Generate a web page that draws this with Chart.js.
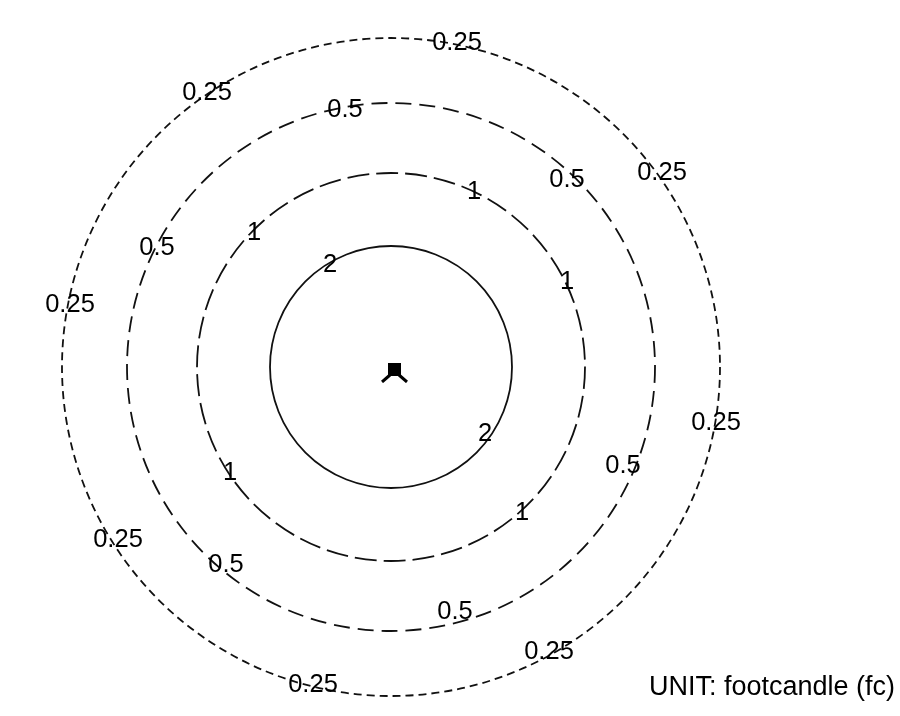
<!DOCTYPE html>
<html>
<script src="https://cdn.jsdelivr.net/npm/chart.js@4.4.1/dist/chart.umd.min.js"></script>
<style>
  body { margin: 0; background: #fff; }
</style>
<body>
  <canvas id="isoChart" width="900" height="716"></canvas>
  <script>
    // illuminance levels (fc) and the radius of each iso line
    const levels = [2, 1, 0.5, 0.25];
    const radii = [121, 194, 264, 329];
    const dashes = [[], [22, 7], [16, 8], [8, 5]];

    // where the level labels sit, relative to the circle centre
    const labels2 = [[-61, 102], [94, -67]];
    const labels1 = [[83, 175], [-137, 134], [176, 85], [-161, -106], [131, -146]];
    const labels05 = [[-46, 257], [176, 187], [-234, 119], [232, -99], [-165, -198], [64, -245]];
    const labels025 = [[66, 324], [-184, 274], [271, 194], [-321, 62], [325, -56], [-273, -173], [158, -285], [-78, -318]];
    const labelSets = [labels2, labels1, labels05, labels025];

    const luminaire = [[4, -6]];
    const unitText = "UNIT: footcandle (fc)";

    // luminaire symbol
    const sym = document.createElement("canvas");
    sym.width = 32; sym.height = 20;
    const sc = sym.getContext("2d");
    sc.fillStyle = "#000";
    sc.fillRect(9, 0, 13, 13);
    sc.strokeStyle = "#000";
    sc.lineWidth = 3;
    sc.beginPath();
    sc.moveTo(11, 12); sc.lineTo(3, 19);
    sc.moveTo(20, 12); sc.lineTo(28, 19);
    sc.stroke();

    const fontFam = "'Liberation Sans', Arial, sans-serif";

    const circlesPlugin = {
      id: "isoCircles",
      beforeDatasetsDraw(chart) {
        const ctx = chart.ctx;
        const xs = chart.scales.x, ys = chart.scales.y;
        const cx = xs.getPixelForValue(0), cy = ys.getPixelForValue(0);
        ctx.save();
        ctx.strokeStyle = "#111";
        ctx.lineWidth = 1.8;
        levels.forEach((lv, i) => {
          const rx = xs.getPixelForValue(radii[i]) - cx;
          const ry = cy - ys.getPixelForValue(radii[i]);
          ctx.setLineDash(dashes[i]);
          ctx.beginPath();
          ctx.ellipse(cx, cy, rx, ry, 0, 0, Math.PI * 2);
          ctx.stroke();
        });
        ctx.restore();
      },
      afterDatasetsDraw(chart) {
        const ctx = chart.ctx;
        ctx.save();
        ctx.fillStyle = "#000";
        ctx.font = "25.5px " + fontFam;
        ctx.textAlign = "center";
        ctx.textBaseline = "middle";
        chart.data.datasets.forEach((ds, di) => {
          if (ds.levelText === undefined) return;
          chart.getDatasetMeta(di).data.forEach(pt => {
            ctx.fillText(ds.levelText, pt.x, pt.y);
          });
        });
        ctx.font = "27px " + fontFam;
        ctx.textAlign = "right";
        ctx.textBaseline = "middle";
        ctx.fillText(unitText, chart.width - 5, 688);
        ctx.restore();
      }
    };

    const datasets = labelSets.map((set, i) => ({
      data: set.map(p => ({ x: p[0], y: p[1] })),
      levelText: String(levels[i]),
      pointRadius: 0
    }));
    datasets.push({
      data: luminaire.map(p => ({ x: p[0], y: p[1] })),
      pointStyle: sym,
      pointRadius: 10
    });

    new Chart("isoChart", {
      type: "scatter",
      data: { datasets: datasets },
      options: {
        responsive: false,
        animation: false,
        events: [],
        layout: { padding: 0, autoPadding: false },
        plugins: {
          legend: { display: false },
          tooltip: { enabled: false }
        },
        scales: {
          x: { type: "linear", min: -391, max: 509, display: false },
          y: { type: "linear", min: -349, max: 367, display: false }
        }
      },
      plugins: [circlesPlugin]
    });
  </script>
</body>
</html>
